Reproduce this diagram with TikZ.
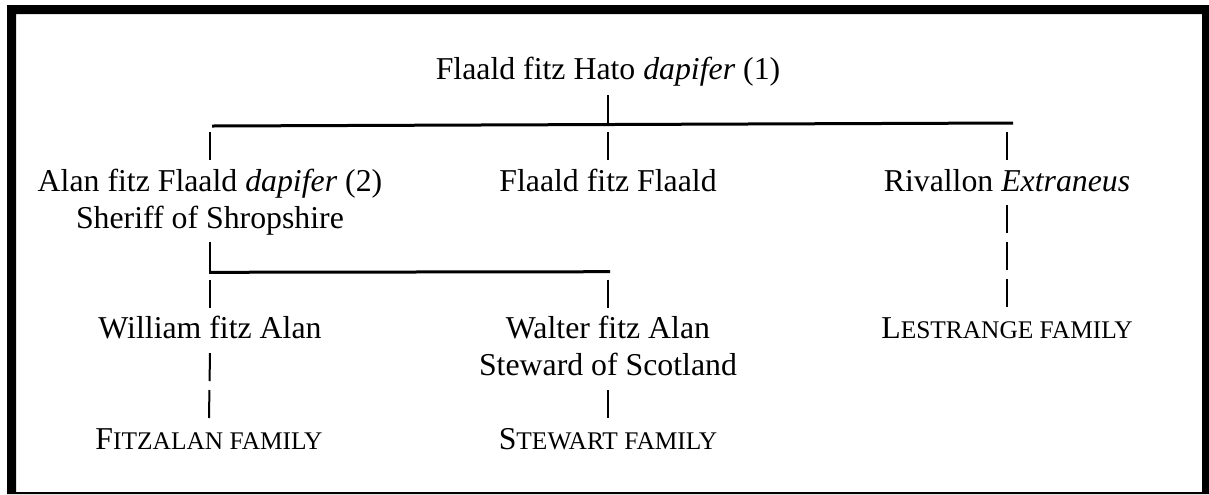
\documentclass[tikz,border=0pt]{standalone}
\usepackage{fontspec}
\setmainfont{Liberation Serif}
\usetikzlibrary{calc}
\newcommand{\fakesc}[2]{#1{\fontsize{12.7}{14}\selectfont #2}}
\begin{document}
\begin{tikzpicture}[x=0.5pt,y=-0.5pt,
  person/.style={font=\fontsize{15.9}{18.5}\selectfont, inner sep=0pt, outer sep=0pt, anchor=base, align=center},
  hline/.style={line width=1.5pt},
  stem/.style={line width=1pt},
  stems/.style={stem, dash pattern=on 14pt off 4.5pt}]
\useasboundingbox (0,0) rectangle (1209,494);
\fill[white] (0,0) rectangle (1209,494);
\fill[black, even odd rule] (7,5) rectangle (1209,494) (16,14) rectangle (1202,492);

% people (base = baseline of the last line)
\node[person] (top) at (608,79) {Flaald fitz Hato \textit{dapifer} (1)};
\node[person] (alan) at (210,228) {Alan fitz Flaald \textit{dapifer} (2)\\Sheriff of Shropshire};
\node[person] (ff) at (608,191) {Flaald fitz Flaald};
\node[person] (riv) at (1007,191) {Rivallon \textit{Extraneus}};
\node[person] (will) at (210,338) {William fitz Alan};
\node[person] (walt) at (608,375) {Walter fitz Alan\\Steward of Scotland};
\node[person] (les) at (1007,338) {\fakesc{L}{ESTRANGE FAMILY}};
\node[person] (fitz) at (209,449) {\fakesc{F}{ITZALAN FAMILY}};
\node[person] (stew) at (608,449) {\fakesc{S}{TEWART FAMILY}};

% junctions
\coordinate (h1l) at (212,126);
\coordinate (h1r) at (1013,123);
\coordinate (j1a) at (210,126);
\coordinate (j1b) at (608,124.6);
\coordinate (j1c) at (1007,123.1);
\coordinate (h2l) at (209,272.3);
\coordinate (h2r) at (610,271.7);
\coordinate (j2a) at (210,272.3);
\coordinate (j2b) at (608,271.7);

% first generation
\draw[stem] ($(top.base)+(0,16)$) -- (j1b);
\draw[hline] (h1l) -- (h1r);
\draw[stem] ($(j1a)+(0,6)$) -- ($(alan.base)+(0,-68)$);
\draw[stem] ($(j1b)+(0,7)$) -- ($(ff.base)+(0,-31)$);
\draw[stem] ($(j1c)+(0,9)$) -- ($(riv.base)+(0,-31)$);

% second generation
\draw[stem] ($(alan.base)+(0,14)$) -- ($(j2a)+(0,-1)$);
\draw[hline] (h2l) -- (h2r);
\draw[stem] ($(j2a)+(0,8)$) -- ($(will.base)+(0,-30)$);
\draw[stem] ($(j2b)+(0,8)$) -- ($(walt.base)+(0,-67)$);

% descendants
\draw[stems] ($(riv.base)+(0,14)$) -- ($(les.base)+(0,-31)$);
\draw[stems] ($(will.base)+(0,15)$) -- ($(fitz.base)+(0,-31)$);
\draw[stem] ($(walt.base)+(0,15)$) -- ($(stew.base)+(0,-31)$);
\end{tikzpicture}
\end{document}
